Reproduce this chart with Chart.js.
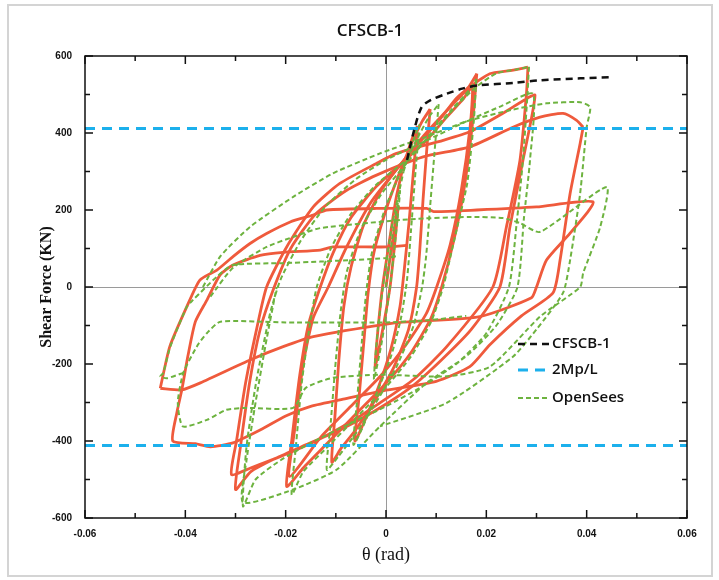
<!DOCTYPE html>
<html>
<head>
<meta charset="utf-8">
<script src="https://cdn.jsdelivr.net/npm/chart.js@4"></script>
<style>
  body { margin: 0; background: #fff; }
</style>
</head>
<body>
<canvas id="chart" width="719" height="580"></canvas>
<script>
// theta (rad), shear force (kN)
const backbone = [[0.0042, 330], [0.0056, 407], [0.0071, 467], [0.0088, 485], [0.0121, 502], [0.0154, 516], [0.0187, 524], [0.0253, 530], [0.0307, 537], [0.0387, 542], [0.0453, 545]];
const plasticShear = 412; // 2Mp/L

// experimental loops (red)
const expLoop1 = [[0, 0], [0.0012, 110], [0.0024, 210], [0.0018, 120], [0.0008, 0], [-0.0008, -120], [-0.0022, -210], [-0.0016, -110], [-0.0007, 0], [0.0008, 130], [0.002, 230], [0.0032, 300]];
const expLoop2 = [[0.0032, 300], [0.0048, 370], [0.0062, 415], [0.0056, 320], [0.0046, 170], [0.0036, 40], [0.0028, -50], [0.001, -160], [-0.0015, -260], [-0.004, -340], [-0.0062, -400], [-0.0054, -290], [-0.0044, -140], [-0.0036, -20], [-0.0024, 90], [0, 200], [0.0025, 290], [0.005, 370], [0.0072, 430], [0.0088, 462]];
const expLoop3 = [[0.0088, 462], [0.0082, 370], [0.0074, 230], [0.0067, 90], [0.0061, 0], [0.0045, -110], [0.0015, -210], [-0.002, -290], [-0.006, -370], [-0.009, -420], [-0.0108, -455], [-0.0102, -340], [-0.0094, -190], [-0.0084, -50], [-0.007, 50], [-0.0045, 160], [-0.001, 250], [0.003, 320], [0.007, 380], [0.011, 440], [0.014, 490], [0.0165, 520], [0.0181, 554]];
const expLoop4 = [[0.0181, 554], [0.0172, 420], [0.0155, 250], [0.0135, 120], [0.0111, 0], [0.009, -80], [0.005, -170], [0, -250], [-0.006, -330], [-0.012, -410], [-0.0165, -470], [-0.0198, -518], [-0.0188, -400], [-0.0172, -230], [-0.0155, -100], [-0.0131, 0], [-0.0105, 90], [-0.007, 180], [-0.002, 260], [0.003, 320], [0.008, 380], [0.012, 440], [0.0155, 490], [0.0172, 520], [0.0168, 420], [0.015, 250], [0.0128, 110], [0.0101, 0], [0.008, -70], [0.004, -150], [-0.001, -230], [-0.007, -310], [-0.013, -390], [-0.0192, -492], [-0.0182, -370], [-0.0165, -200], [-0.0145, -80], [-0.0115, 0], [-0.008, 100], [-0.003, 220], [0.003, 320], [0.008, 400], [0.013, 470], [0.0167, 519], [0.0207, 554], [0.0247, 562], [0.0283, 571]];
const expLoop5 = [[0.0283, 571], [0.028, 502], [0.0267, 329], [0.024, 156], [0.0213, 0], [0.0121, -155], [0.0054, -241], [-0.0012, -301], [-0.007, -350], [-0.014, -400], [-0.021, -440], [-0.027, -470], [-0.0308, -487], [-0.0298, -400], [-0.028, -250], [-0.0258, -110], [-0.0238, 0], [-0.0198, 104], [-0.0145, 208], [-0.0092, 269], [-0.0019, 321], [0.0021, 347], [0.0114, 381], [0.0167, 403], [0.0233, 451], [0.0275, 485], [0.0297, 498], [0.0273, 329], [0.0247, 156], [0.0227, 0], [0.017, -110], [0.011, -190], [0.005, -260], [-0.002, -320], [-0.009, -370], [-0.016, -410], [-0.022, -445], [-0.027, -480], [-0.030, -526], [-0.029, -414], [-0.0271, -241], [-0.0251, -111], [-0.0225, -8], [-0.019, 100], [-0.014, 190], [-0.008, 250], [-0.002, 290], [0.0074, 338], [0.0167, 364], [0.0253, 415], [0.0307, 441], [0.0353, 451], [0.038, 433], [0.0393, 415]];
const expLoop6 = [[0.0393, 415], [0.0387, 373], [0.0367, 243], [0.0347, 70], [0.0333, -15], [0.027, -75], [0.0207, -150], [0.0167, -207], [0.01, -245], [0, -268], [-0.008, -290], [-0.015, -310], [-0.02, -335], [-0.025, -371], [-0.0305, -405], [-0.035, -415], [-0.038, -407], [-0.0425, -400], [-0.0417, -327], [-0.0407, -267], [-0.0395, -180], [-0.038, -90], [-0.0357, -34], [-0.0331, 31], [-0.0305, 57], [-0.0251, 82], [-0.0205, 90], [-0.0131, 96], [-0.0106, 104], [0.0001, 104], [0.004, 108]];
const expLoop7 = [[-0.045, -263], [-0.0431, -155], [-0.0397, -51], [-0.0371, 18], [-0.0337, 44], [-0.0305, 79], [-0.0271, 113], [-0.0238, 139], [-0.0191, 169], [-0.0145, 187], [-0.0118, 200], [-0.0019, 204], [0.0081, 204], [0.0095, 196], [0.0181, 200], [0.03, 208], [0.0413, 221], [0.0367, 140], [0.032, 70], [0.030, 0], [0.029, -28], [0.0187, -77], [0.0054, -90], [0.0014, -94], [-0.0145, -129], [-0.0205, -155], [-0.027, -189], [-0.037, -249], [-0.0407, -267], [-0.045, -263]];

// OpenSees loops (green)
const simLoop1 = [[0, 0], [0.0015, 150], [0.0028, 250], [0.002, 140], [0.0008, 0], [-0.0008, -140], [-0.0024, -240], [-0.0017, -120], [-0.0006, 0], [0.0012, 160], [0.0035, 300]];
const simLoop2 = [[0.0035, 300], [0.0052, 370], [0.0066, 420], [0.006, 320], [0.005, 150], [0.0042, 20], [0.003, -80], [0.001, -180], [-0.002, -280], [-0.0045, -360], [-0.0065, -410], [-0.0058, -300], [-0.0048, -140], [-0.004, -20], [-0.0028, 90], [0, 210], [0.003, 300], [0.006, 380], [0.0085, 440], [0.0105, 475]];
const simLoop3 = [[0.0105, 475], [0.0098, 370], [0.0088, 210], [0.008, 80], [0.0072, 0], [0.0055, -100], [0.002, -210], [-0.002, -300], [-0.006, -380], [-0.0095, -440], [-0.0118, -475], [-0.011, -350], [-0.01, -190], [-0.009, -60], [-0.0078, 40], [-0.005, 150], [-0.001, 240], [0.004, 320], [0.009, 400], [0.013, 460], [0.0165, 510], [0.018, 540]];
const simLoop4 = [[0.018, 540], [0.0175, 430], [0.0162, 270], [0.0141, 150], [0.0125, 60], [0.0114, 0], [0.009, -90], [0.005, -180], [0, -260], [-0.006, -340], [-0.012, -420], [-0.0165, -480], [-0.0188, -540], [-0.018, -420], [-0.0168, -250], [-0.0152, -100], [-0.0138, 0], [-0.011, 100], [-0.007, 190], [-0.002, 265], [0.004, 330], [0.01, 410], [0.014, 470], [0.018, 520], [0.022, 555], [0.026, 565], [0.0285, 572]];
const simLoop5 = [[0.0285, 572], [0.0282, 500], [0.0273, 330], [0.026, 160], [0.0245, 0], [0.02, -120], [0.014, -200], [0.007, -260], [0, -310], [-0.008, -360], [-0.015, -405], [-0.021, -450], [-0.026, -500], [-0.0285, -570], [-0.0278, -414], [-0.0258, -241], [-0.0231, -68], [-0.021, 20], [-0.017, 120], [-0.012, 210], [-0.006, 280], [0, 330], [0.008, 380], [0.016, 430], [0.023, 470], [0.0293, 502], [0.0287, 329], [0.0275, 180], [0.0262, 0], [0.022, -100], [0.016, -180], [0.008, -250], [-0.0012, -362], [-0.0098, -474], [-0.0185, -526], [-0.0285, -560], [-0.0278, -450], [-0.026, -300], [-0.024, -150], [-0.0218, 0]];
const simLoop6 = [[-0.0365, 0], [-0.033, 80], [-0.0271, 156], [-0.0185, 234], [-0.0106, 295], [-0.0012, 347], [0.008, 390], [0.016, 430], [0.025, 460], [0.032, 477], [0.0387, 480], [0.0407, 467], [0.04, 415], [0.0387, 243], [0.0367, 70], [0.0353, -15], [0.03, -110], [0.0253, -181], [0.0121, -301], [-0.0012, -362]];
const simLoop7 = [[-0.035, -25], [-0.0305, 50], [-0.0238, 104], [-0.0185, 130], [-0.0131, 153], [0.0048, 176], [0.0167, 182], [0.0233, 179], [0.0267, 166], [0.0307, 143], [0.044, 260], [0.0427, 156], [0.0393, 36], [0.0387, 0], [0.0307, -77], [0.0207, -207], [0.0121, -232], [-0.0012, -228], [-0.0106, -236], [-0.016, -262], [-0.0185, -314], [-0.0278, -314], [-0.0318, -319], [-0.0357, -345], [-0.0405, -362], [-0.0415, -300], [-0.0404, -223], [-0.0375, -150], [-0.0357, -120], [-0.033, -90], [-0.02, -92], [0, -92], [0.0088, -86], [0.016, -75]];
const simLoop8 = [[-0.0404, -223], [-0.0437, -237], [-0.045, -232], [-0.0444, -223], [-0.043, -155], [-0.0397, -51], [-0.0385, -34], [-0.0337, 27], [-0.0305, 57], [-0.0205, 62], [-0.0131, 66], [0, 75], [0.002, 80]];

const expLoops = [expLoop1, expLoop2, expLoop3, expLoop4, expLoop5, expLoop6, expLoop7];
const simLoops = [simLoop1, simLoop2, simLoop3, simLoop4, simLoop5, simLoop6, simLoop7, simLoop8];

const RED = "#ef5a3c";
const GREEN = "#6db33f";
const BLUE = "#1cb0ec";

const toPoints = (arr) => arr.map(([x, y]) => ({ x: x, y: y }));

const datasets = [
  {
    label: "CFSCB-1",
    data: toPoints(backbone),
    borderColor: "#111",
    borderWidth: 2.5,
    borderDash: [7, 5],
    tension: 0.3,
    legend: true,
  },
  {
    label: "2Mp/L",
    data: [{ x: -0.06, y: plasticShear }, { x: 0.06, y: plasticShear }],
    borderColor: BLUE,
    borderWidth: 3,
    borderDash: [10, 7],
    legend: true,
  },
  {
    label: "2Mp/L",
    data: [{ x: -0.06, y: -plasticShear }, { x: 0.06, y: -plasticShear }],
    borderColor: BLUE,
    borderWidth: 3,
    borderDash: [10, 7],
  },
];
simLoops.forEach((loop, i) => {
  datasets.push({
    label: "OpenSees",
    data: toPoints(loop),
    borderColor: GREEN,
    borderWidth: 2,
    borderDash: [5, 3],
    tension: 0.2,
    legend: i === 0,
  });
});
expLoops.forEach((loop) => {
  datasets.push({
    label: "Test",
    data: toPoints(loop),
    borderColor: RED,
    borderWidth: 2.8,
    tension: 0.2,
  });
});
datasets.forEach((d) => {
  d.showLine = true;
  d.pointRadius = 0;
  d.fill = false;
});

// frame, inward ticks, title and legend
const decorations = {
  id: "decorations",
  afterDraw(chart) {
    const { ctx, chartArea: a, scales } = chart;
    ctx.save();
    ctx.strokeStyle = "#d4d4d4";
    ctx.lineWidth = 2;
    ctx.strokeRect(8, 5, 704, 571);

    ctx.strokeStyle = "#111";
    ctx.lineWidth = 1.5;
    ctx.strokeRect(a.left, a.top, a.right - a.left, a.bottom - a.top);
    ctx.beginPath();
    for (let i = -6; i <= 6; i++) {
      const len = i % 2 === 0 ? 8 : 5;
      const px = scales.x.getPixelForValue(i / 100);
      ctx.moveTo(px, a.bottom);
      ctx.lineTo(px, a.bottom - len);
      ctx.moveTo(px, a.top);
      ctx.lineTo(px, a.top + len);
      const py = scales.y.getPixelForValue(i * 100);
      ctx.moveTo(a.left, py);
      ctx.lineTo(a.left + len, py);
      ctx.moveTo(a.right, py);
      ctx.lineTo(a.right - len, py);
    }
    ctx.stroke();

    ctx.fillStyle = "#111";
    ctx.font = '600 17px "Open Sans"';
    ctx.textAlign = "center";
    ctx.textBaseline = "middle";
    ctx.fillText("CFSCB-1", 370, 31);

    const rows = chart.data.datasets.filter((d) => d.legend);
    const rowY = [344, 370, 398];
    ctx.textAlign = "left";
    ctx.font = '600 15px "Open Sans"';
    rows.forEach((d, i) => {
      ctx.beginPath();
      ctx.strokeStyle = d.borderColor;
      ctx.lineWidth = d.borderWidth;
      ctx.setLineDash(d.borderDash);
      ctx.moveTo(518, rowY[i]);
      ctx.lineTo(549, rowY[i]);
      ctx.stroke();
      ctx.setLineDash([]);
      ctx.fillStyle = "#111";
      ctx.fillText(d.label, 552, rowY[i]);
    });
    ctx.restore();
  },
};

const tickFont = { family: '"Liberation Sans Narrow", "Liberation Sans", sans-serif', size: 10, weight: "bold" };
const zeroGrid = (ctx) => (ctx.tick && Math.abs(ctx.tick.value) < 1e-9 ? "#9a9a9a" : "rgba(0,0,0,0)");

new Chart(document.getElementById("chart"), {
  type: "scatter",
  data: { datasets: datasets },
  plugins: [decorations],
  options: {
    responsive: false,
    animation: false,
    events: [],
    layout: { padding: { left: 37, right: 32, top: 56, bottom: 12 } },
    plugins: {
      legend: { display: false },
      tooltip: { enabled: false },
    },
    scales: {
      x: {
        type: "linear",
        min: -0.06,
        max: 0.06,
        afterFit: (scale) => { scale.height = 50; },
        ticks: {
          stepSize: 0.02,
          padding: 10,
          color: "#111",
          font: tickFont,
          callback: (v) => (Math.abs(v) < 1e-9 ? "0" : v.toFixed(2)),
        },
        grid: { color: zeroGrid, lineWidth: 1, drawTicks: false },
        border: { display: false },
        title: {
          display: true,
          text: "θ (rad)",
          color: "#111",
          font: { family: '"Liberation Serif", serif', size: 18 },
          padding: { top: 0, bottom: 2 },
        },
      },
      y: {
        type: "linear",
        min: -600,
        max: 600,
        afterFit: (scale) => { scale.width = 48; },
        ticks: {
          stepSize: 200,
          padding: 13,
          color: "#111",
          font: tickFont,
        },
        grid: { color: zeroGrid, lineWidth: 1, drawTicks: false },
        border: { display: false },
        title: {
          display: true,
          text: "Shear Force (KN)",
          color: "#111",
          font: { family: '"Liberation Serif", serif', size: 16, weight: "bold" },
          padding: { top: 0, bottom: 0 },
        },
      },
    },
  },
});
</script>
</body>
</html>
